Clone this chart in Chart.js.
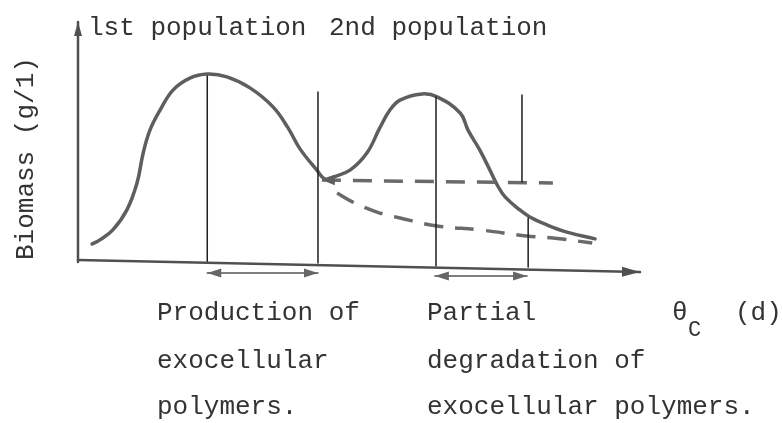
<!DOCTYPE html>
<html>
<head>
<meta charset="utf-8">
<script src="https://cdn.jsdelivr.net/npm/chart.js@4/dist/chart.umd.min.js"></script>
<style>
  body { margin: 0; background: #fff; }
  #wrap { position: relative; width: 782px; height: 423px; }
  #wrap canvas { position: absolute; left: 0; top: 0; }
  .t {
    position: absolute;
    font-family: "Liberation Mono", "DejaVu Sans Mono", monospace;
    font-size: 26px;
    line-height: 26px;
    color: #333;
    white-space: pre;
  }
  .ylab { transform-origin: 0 0; transform: rotate(-90deg); }
  .sub { font-size: 22px; }
</style>
</head>
<body>
<div id="wrap">
  <canvas id="chart" width="782" height="423"></canvas>
  <div class="t" style="left:88px;top:15px">lst population</div>
  <div class="t" style="left:329px;top:15px">2nd population</div>
  <div class="t ylab" style="left:13px;top:260px">Biomass (g/1)</div>
  <div class="t" style="left:157px;top:300px">Production of</div>
  <div class="t" style="left:157px;top:348px">exocellular</div>
  <div class="t" style="left:157px;top:394px">polymers.</div>
  <div class="t" style="left:427px;top:300px">Partial</div>
  <div class="t" style="left:427px;top:348px">degradation of</div>
  <div class="t" style="left:427px;top:394px">exocellular polymers.</div>
  <div class="t" style="left:672px;top:300px">&theta;</div>
  <div class="t sub" style="left:688px;top:318px">C</div>
  <div class="t" style="left:735px;top:300px">(d)</div>
</div>
<script>
// solid biomass curve (two populations)
var biomassX = [0.25, 0.39, 0.62, 0.87, 1.05, 1.16, 1.28, 1.46, 1.69, 1.99, 2.30, 2.65, 3.06, 3.47, 3.74, 3.95, 4.25, 4.39,
                4.54, 4.84, 5.14, 5.37, 5.55, 5.73, 6.12, 6.39, 6.80, 6.94, 7.15, 7.33, 7.46, 7.60, 7.86, 8.04, 8.35, 8.70, 9.20];
var biomassY = [0.90, 1.07, 1.48, 2.30, 3.40, 4.63, 5.57, 6.39, 7.21, 7.70, 7.87, 7.75, 7.30, 6.52, 5.65, 4.80, 3.93, 3.57,
                3.65, 3.93, 4.63, 5.66, 6.39, 6.80, 7.05, 6.93, 6.27, 5.57, 4.75, 3.93, 3.32, 2.83, 2.30, 2.01, 1.68, 1.39, 1.11];

// dashed level line and dashed decay line
var plateauX = [4.34, 8.45];
var plateauY = [3.52, 3.40];
var decayX = [4.61, 4.89, 5.32, 5.73, 6.39, 7.15, 7.99, 8.45, 9.15];
var decayY = [2.99, 2.62, 2.21, 1.97, 1.64, 1.48, 1.23, 1.15, 0.94];

// vertical markers
var markerX = [2.30, 4.27, 6.37, 7.90, 8.01];
var markerTop = [7.79, 7.13, 6.93, 7.01, 1.97];
var markerBottom = [0.16, 0.12, 0.00, 3.44, -0.04];

// double-headed spans under the axis
var spanStart = [2.30, 6.35];
var spanEnd = [4.27, 7.99];
var spanY = [-0.29, -0.41];

// axes
var xAxisX = [0, 10];
var xAxisY = [0.25, -0.25];
var yAxisX = [0, 0];
var yAxisY = [0.16, 10];

function pts(xs, ys) {
    return xs.map(function(x, i) { return { x: x, y: ys[i] }; });
}

var datasets = [];
function addLine(data, color, width, dash, tension) {
    datasets.push({
        data: data,
        borderColor: color,
        borderWidth: width,
        borderDash: dash || [],
        tension: tension || 0,
        pointRadius: 0,
        fill: false,
        clip: false,
        borderCapStyle: dash ? "butt" : "round"
    });
}

addLine(pts(xAxisX, xAxisY), "#505050", 2.5);
addLine(pts(yAxisX, yAxisY), "#505050", 2.5);
markerX.forEach(function(x, i) {
    addLine([{ x: x, y: markerBottom[i] }, { x: x, y: markerTop[i] }], "#1e1e1e", 1.5);
});
spanStart.forEach(function(x, i) {
    addLine([{ x: x, y: spanY[i] }, { x: spanEnd[i], y: spanY[i] }], "#555", 1.5);
});
addLine(pts(plateauX, plateauY), "#6a6a6a", 3.5, [19, 12]);
addLine(pts(decayX, decayY), "#6a6a6a", 3.5, [19, 12], 0.4);
addLine(pts(biomassX, biomassY), "#5e5e5e", 3.5, null, 0.4);

function head(ctx, tx, ty, fx, fy, len, half, color) {
    var a = Math.atan2(ty - fy, tx - fx);
    ctx.save();
    ctx.translate(tx, ty);
    ctx.rotate(a);
    ctx.fillStyle = color;
    ctx.beginPath();
    ctx.moveTo(0, 0);
    ctx.lineTo(-len, -half);
    ctx.lineTo(-len, half);
    ctx.closePath();
    ctx.fill();
    ctx.restore();
}

var arrows = {
    id: "arrows",
    afterDatasetsDraw: function(chart) {
        var ctx = chart.ctx;
        var sx = chart.scales.x, sy = chart.scales.y;
        function px(x) { return sx.getPixelForValue(x); }
        function py(y) { return sy.getPixelForValue(y); }
        // axis arrows
        head(ctx, px(xAxisX[1]), py(xAxisY[1]), px(xAxisX[0]), py(xAxisY[0]), 18, 5, "#505050");
        head(ctx, px(yAxisX[1]), py(yAxisY[1]), px(yAxisX[0]), py(yAxisY[0]), 14, 4, "#505050");
        // span arrows
        spanStart.forEach(function(x, i) {
            var y = py(spanY[i]);
            head(ctx, px(x), y, px(spanEnd[i]), y, 14, 4.5, "#666");
            head(ctx, px(spanEnd[i]), y, px(x), y, 14, 4.5, "#666");
        });
        // dashed level line starts at the curve minimum
        head(ctx, px(plateauX[0]), py(plateauY[0]), px(plateauX[1]), py(plateauY[1]), 13, 5, "#5e5e5e");
    }
};

new Chart(document.getElementById("chart").getContext("2d"), {
    type: "line",
    data: { datasets: datasets },
    options: {
        responsive: false,
        animation: false,
        layout: { padding: { left: 78, right: 142, top: 22, bottom: 132.6 } },
        plugins: { legend: { display: false }, tooltip: { enabled: false } },
        scales: {
            x: { type: "linear", min: 0, max: 10, display: false },
            y: { type: "linear", min: -1, max: 10, display: false }
        }
    },
    plugins: [arrows]
});
</script>
</body>
</html>
